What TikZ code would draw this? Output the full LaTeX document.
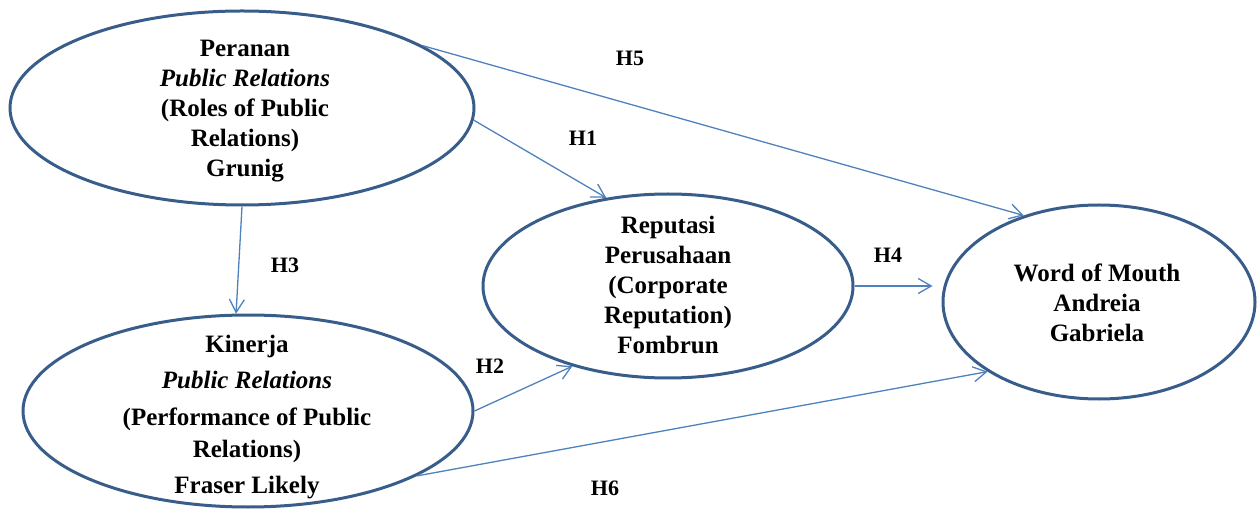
\documentclass[tikz,border=0pt]{standalone}
\usepackage{fontspec}
\setmainfont{Liberation Serif}
\usetikzlibrary{shapes.geometric, arrows.meta}
\definecolor{garis}{RGB}{56,93,138}
\definecolor{panahbiru}{RGB}{79,129,189}
\tikzset{
  konstruk/.style={ellipse, draw=garis, line width=3pt, inner sep=0pt},
  teks/.style={align=center, font=\bfseries\fontsize{25}{30}\selectfont, inner sep=0pt},
  panah/.style={draw=panahbiru, line width=1.3pt, -{Straight Barb[length=13pt, width=15pt]}},
  hlabel/.style={font=\bfseries\fontsize{22}{26}\selectfont, inner sep=0pt},
}

\begin{document}
\begin{tikzpicture}[x=1pt, y=-1pt]
  \useasboundingbox (0,0) rectangle (1258,510);
  % konstruk
  \node[konstruk, minimum width=464pt, minimum height=194pt] (per) at (242,108) {};
  \node[konstruk, minimum width=450pt, minimum height=192pt] (kin) at (248,411) {};
  \node[konstruk, minimum width=370pt, minimum height=184pt] (rep) at (668,286) {};
  \node[konstruk, minimum width=312pt, minimum height=194pt] (wom) at (1099,302) {};
  \node[teks] (pertxt) at (245,111) {Peranan\\\textit{Public Relations}\\(Roles of Public\\Relations)\\Grunig};
  \node[teks] (kintxt) at (247,417) {Kinerja\\[6pt]\textit{Public Relations}\\[7pt](Performance of Public\\[2pt]Relations)\\[6pt]Fraser Likely};
  \node[teks] (reptxt) at (668,285) {Reputasi\\Perusahaan\\(Corporate\\Reputation)\\Fombrun};
  \node[teks] (womtxt) at (1097,303) {Word of Mouth\\Andreia\\Gabriela};
  % hipotesis
  \draw[panah] (per.19.5) -- (wom.131);
  \draw[panah] (per.-3) -- (rep.125);
  \draw[panah] (per.-90) -- (kin.97);
  \draw[panah] (kin.east) -- (rep.220);
  \draw[panah, shorten >=9pt] (rep.east) -- (rep.east -| wom.west);
  \draw[panah] (kin.-21) -- (wom.212);
  \node[hlabel] (h5) at (630,58) {H5};
  \node[hlabel] (h1) at (583,138) {H1};
  \node[hlabel] (h3) at (285,265) {H3};
  \node[hlabel] (h2) at (490,366) {H2};
  \node[hlabel] (h4) at (888,255) {H4};
  \node[hlabel] (h6) at (605,488) {H6};
\end{tikzpicture}
\end{document}
